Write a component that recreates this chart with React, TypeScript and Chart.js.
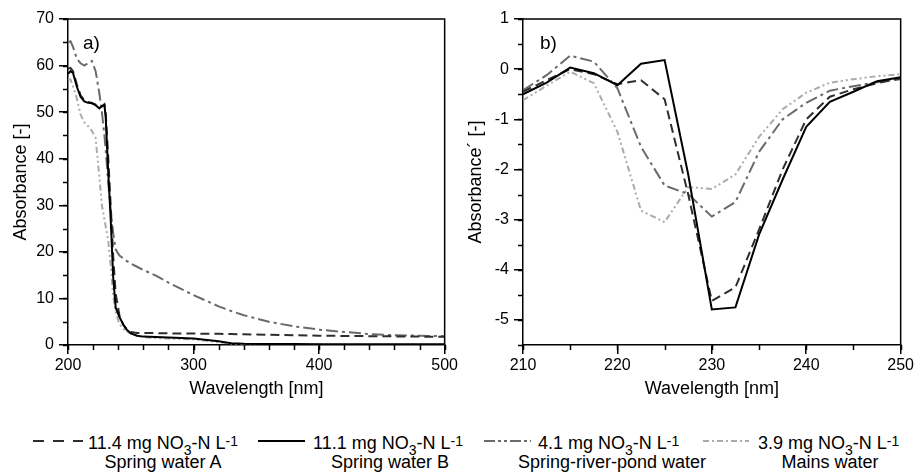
import React, { useEffect, useRef } from "react";
import { Chart, registerables } from "chart.js";

Chart.register(...registerables);

const FONT = "'Liberation Sans', Arial, Helvetica, sans-serif";

// ---------- Panel a) : absorbance spectra ----------
const waveUV = [200, 202, 204, 207, 210, 213, 216, 219, 222, 225, 227, 229, 230, 232, 234, 236, 238, 241, 244, 247, 250, 255, 260, 270, 280, 300, 320, 330, 340, 360, 380, 400, 420, 440, 460, 480, 500];
const absSpringA = [59.3, 59.5, 58.8, 56.0, 53.6, 52.6, 52.2, 52.0, 51.6, 50.9, 51.2, 51.7, 50.0, 40.5, 30.0, 19.0, 11.0, 6.3, 4.3, 3.3, 2.8, 2.6, 2.6, 2.55, 2.5, 2.45, 2.4, 2.35, 2.3, 2.2, 2.1, 2.0, 1.95, 1.9, 1.85, 1.8, 1.75];
const absSpringB = [58.2, 58.8, 58.4, 55.5, 53.3, 52.3, 52.0, 51.9, 51.5, 50.8, 51.3, 51.5, 49.0, 37.5, 27.0, 14.5, 8.0, 6.0, 4.4, 3.2, 2.5, 2.0, 1.8, 1.7, 1.6, 1.4, 0.8, 0.4, 0.25, 0.2, 0.2, 0.15, 0.15, 0.15, 0.15, 0.15, 0.15];
const absPond = [65.0, 65.2, 64.0, 61.5, 60.5, 60.0, 60.5, 61.0, 58.8, 54.0, 50.0, 45.0, 42.0, 35.0, 29.0, 24.0, 20.5, 19.2, 18.6, 18.0, 17.5, 16.8, 16.1, 14.9, 13.4, 10.7, 8.3, 7.3, 6.4, 5.0, 4.0, 3.3, 2.8, 2.35, 2.1, 2.0, 1.9];
const absMains = [57.0, 57.0, 55.5, 53.0, 49.5, 47.8, 47.0, 46.0, 44.5, 36.0, 30.0, 27.0, 25.5, 22.5, 17.0, 10.5, 7.0, 4.5, 3.5, 2.9, 2.5, 2.0, 1.7, 1.5, 1.4, 1.2, 0.6, 0.3, 0.15, 0.05, 0.05, 0.05, 0.05, 0.05, 0.05, 0.05, 0.05];

// ---------- Panel b) : first derivative ----------
const waveDer = [210, 212.5, 215, 217.5, 220, 222.5, 225, 227.5, 230, 232.5, 235, 237.5, 240, 242.5, 245, 247.5, 250];
const derSpringA = [-0.45, -0.22, 0.0, -0.1, -0.3, -0.22, -0.6, -2.5, -4.62, -4.35, -3.2, -2.0, -1.0, -0.55, -0.4, -0.28, -0.18];
const derSpringB = [-0.5, -0.27, 0.03, -0.08, -0.32, 0.11, 0.18, -2.1, -4.79, -4.75, -3.3, -2.2, -1.15, -0.65, -0.45, -0.24, -0.16];
const derPond = [-0.42, -0.12, 0.27, 0.15, -0.38, -1.55, -2.32, -2.49, -2.94, -2.65, -1.65, -1.0, -0.67, -0.43, -0.34, -0.26, -0.2];
const derMains = [-0.62, -0.33, -0.05, -0.28, -1.25, -2.82, -3.05, -2.35, -2.39, -2.1, -1.35, -0.8, -0.47, -0.27, -0.2, -0.14, -0.1];

// ---------- Legend ----------
const legendConc = ["11.4", "11.1", "4.1", "3.9"];
const legendNames = ["Spring water A", "Spring water B", "Spring-river-pond water", "Mains water"];

const seriesColors = ["#2e2e2e", "#000000", "#6a6a6a", "#ababab"];
const seriesDash: number[][] = [[9, 5], [], [12, 4, 3, 4], [6, 3, 2, 3, 2, 3]];

function ds(label: string, xs: number[], ys: number[], i: number) {
  return {
    label,
    data: xs.map((x, k) => ({ x, y: ys[k] })),
    borderColor: seriesColors[i],
    borderWidth: 2,
    borderDash: seriesDash[i],
    pointRadius: 0,
    tension: 0,
    fill: false,
    order: i === 1 ? 0 : i + 1,
  };
}

const panelPlugin = {
  id: "panel",
  afterDraw(chart: any, _args: any, opts: any) {
    const { ctx, chartArea } = chart;
    const { left, right, top, bottom } = chartArea;
    const x = chart.scales.x;
    const y = chart.scales.y;
    ctx.save();
    ctx.strokeStyle = "#000";
    ctx.lineWidth = 1.5;
    ctx.beginPath();
    ctx.moveTo(left, top);
    ctx.lineTo(right, top);
    ctx.lineTo(right, bottom);
    ctx.stroke();
    ctx.beginPath();
    const nx = Math.round((x.max - x.min) / opts.xMinor);
    for (let k = 0; k <= nx; k++) {
      const px = Math.round(x.getPixelForValue(x.min + k * opts.xMinor)) + 0.5;
      ctx.moveTo(px, bottom);
      ctx.lineTo(px, bottom + 5);
    }
    const ny = Math.round((y.max - y.min) / opts.yMinor);
    for (let k = 0; k <= ny; k++) {
      const py = Math.round(y.getPixelForValue(y.min + k * opts.yMinor)) + 0.5;
      ctx.moveTo(left, py);
      ctx.lineTo(left - 5, py);
    }
    ctx.stroke();
    ctx.fillStyle = "#000";
    ctx.font = `19px ${FONT}`;
    ctx.textBaseline = "alphabetic";
    ctx.textAlign = "left";
    ctx.fillText(opts.label, left + opts.labelDx, top + 30);
    ctx.restore();
  },
};

function axis(min: number, max: number, step: number, title: string, horizontal: boolean, size: number, titlePad: any) {
  return {
    type: "linear" as const,
    min,
    max,
    ticks: {
      stepSize: step,
      includeBounds: false,
      autoSkip: false,
      maxRotation: 0,
      color: "#000",
      padding: horizontal ? 2 : 5,
      font: { family: FONT, size: 16 },
    },
    grid: { drawOnChartArea: false, drawTicks: true, tickLength: 9, color: "#000", lineWidth: 1.5 },
    border: { color: "#000", width: 1.5 },
    title: { display: true, text: title, color: "#000", font: { family: FONT, size: 18 }, padding: titlePad },
    afterFit: (s: any) => {
      if (horizontal) s.height = size;
      else s.width = size;
    },
  };
}

function useChart(ref: React.RefObject<HTMLCanvasElement | null>, cfg: () => any) {
  useEffect(() => {
    if (!ref.current) return;
    const chart = new Chart(ref.current, cfg());
    return () => chart.destroy();
  }, []);
}

function LegendSample({ i, x1, x2 }: { i: number; x1: number; x2: number }) {
  const dashes = ["11 9", "", "11 3 3 3 3 3", "6 3 2 3"];
  return (
    <svg style={{ position: "absolute", left: x1, top: 436 }} width={x2 - x1} height={10}>
      <line x1={0} y1={5} x2={x2 - x1} y2={5} stroke={seriesColors[i]} strokeWidth={2} strokeDasharray={dashes[i] || undefined} />
    </svg>
  );
}

export default function App() {
  const leftRef = useRef<HTMLCanvasElement>(null);
  const rightRef = useRef<HTMLCanvasElement>(null);

  useChart(leftRef, () => ({
    type: "line",
    data: {
      datasets: [
        ds("Spring water A", waveUV, absSpringA, 0),
        ds("Spring water B", waveUV, absSpringB, 1),
        ds("Spring-river-pond water", waveUV, absPond, 2),
        ds("Mains water", waveUV, absMains, 3),
      ],
    },
    options: {
      animation: false,
      responsive: false,
      devicePixelRatio: 1,
      layout: { padding: { left: 0, right: 12, top: 19, bottom: 0 } },
      plugins: {
        legend: { display: false },
        tooltip: { enabled: false },
        panel: { label: "a)", labelDx: 15, xMinor: 20, yMinor: 5 },
      },
      scales: {
        x: axis(200, 500, 100, "Wavelength [nm]", true, 59, { top: 0, bottom: 4 }),
        y: axis(0, 70, 10, "Absorbance [-]", false, 68, { top: 10, bottom: 0 }),
      },
    },
    plugins: [panelPlugin],
  }));

  useChart(rightRef, () => ({
    type: "line",
    data: {
      datasets: [
        ds("Spring water A", waveDer, derSpringA, 0),
        ds("Spring water B", waveDer, derSpringB, 1),
        ds("Spring-river-pond water", waveDer, derPond, 2),
        ds("Mains water", waveDer, derMains, 3),
      ],
    },
    options: {
      animation: false,
      responsive: false,
      devicePixelRatio: 1,
      layout: { padding: { left: 0, right: 13, top: 19, bottom: 0 } },
      plugins: {
        legend: { display: false },
        tooltip: { enabled: false },
        panel: { label: "b)", labelDx: 17, xMinor: 5, yMinor: 0.5 },
      },
      scales: {
        x: axis(210, 250, 10, "Wavelength [nm]", true, 59, { top: 0, bottom: 4 }),
        y: axis(-5.5, 1, 1, "Absorbance\u00B4 [-]", false, 63, { top: 5, bottom: 0 }),
      },
    },
    plugins: [panelPlugin],
  }));

  const sampleX1 = [33, 258, 484, 703];
  const sampleX2 = [83, 305, 531, 749];
  const textX = [88, 313, 538, 758];
  const nameCenter = [163, 390, 612, 830];

  return (
    <div style={{ position: "fixed", left: 0, top: 0, width: 916, height: 473, background: "#fff", fontFamily: FONT, color: "#000", overflow: "hidden" }}>
      <canvas ref={leftRef} width={460} height={404} style={{ position: "absolute", left: 0, top: 0 }} />
      <canvas ref={rightRef} width={456} height={404} style={{ position: "absolute", left: 460, top: 0 }} />
      {legendConc.map((c, i) => (
        <React.Fragment key={i}>
          <LegendSample i={i} x1={sampleX1[i]} x2={sampleX2[i]} />
          <div style={{ position: "absolute", left: textX[i], top: 434, fontSize: 18, lineHeight: "18px", whiteSpace: "nowrap" }}>
            {c} mg NO<span style={{ fontSize: 14, position: "relative", top: 6 }}>3</span>-N L
            <span style={{ fontSize: 14, position: "relative", top: -3 }}>-1</span>
          </div>
          <div style={{ position: "absolute", left: nameCenter[i], top: 453, transform: "translateX(-50%)", fontSize: 18, lineHeight: "18px", whiteSpace: "nowrap" }}>
            {legendNames[i]}
          </div>
        </React.Fragment>
      ))}
    </div>
  );
}
